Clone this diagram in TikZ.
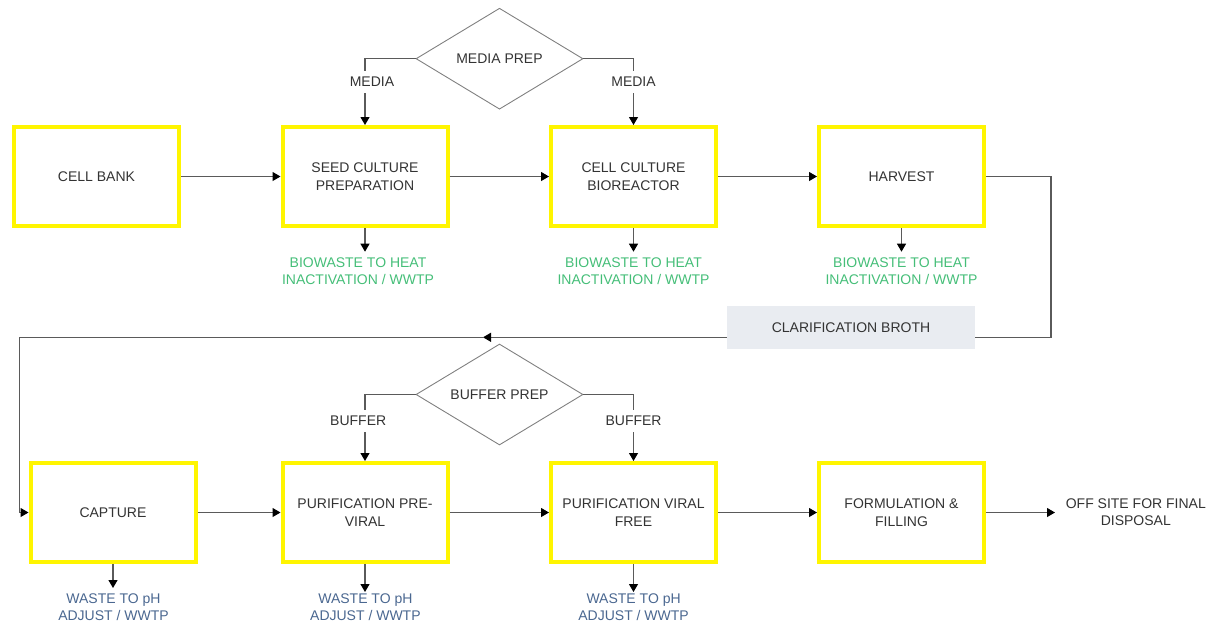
\documentclass[tikz,border=0pt]{standalone}
\usepackage{fontspec}
\setmainfont{Liberation Sans}
\usetikzlibrary{arrows.meta,shapes.geometric}
\definecolor{boxyellow}{HTML}{FFF500}
\definecolor{linegray}{HTML}{5A5A5A}
\definecolor{diagray}{HTML}{808080}
\definecolor{txt}{HTML}{333333}
\definecolor{biogreen}{HTML}{45BE78}
\definecolor{phblue}{HTML}{4A6790}
\definecolor{broth}{HTML}{E9ECF1}
\begin{document}
\begin{tikzpicture}[x=1pt,y=-1pt,
  every node/.style={font=\fontsize{14}{17.4}\selectfont, text=txt},
  stage/.style={draw=boxyellow, line width=4pt, minimum width=165pt,
    minimum height=99pt, align=center, inner sep=2pt},
  prep/.style={diamond, draw=diagray, line width=0.9pt, minimum width=167pt,
    minimum height=101pt, inner sep=0pt, aspect=1.65},
  flow/.style={draw=linegray, line width=1.1pt,
    -{Triangle[length=8pt,width=9pt,color=black]}},
  plain/.style={draw=linegray, line width=1.1pt},
  feed/.style={fill=white, inner xsep=2pt, inner ysep=6pt},
  bio/.style={text=biogreen, align=center, inner sep=0pt},
  phw/.style={text=phblue, align=center, inner sep=0pt}]
\useasboundingbox (0,0) rectangle (1221,625);

% upstream stages
\node[stage] (cellbank) at (96.5,176.5) {CELL BANK};
\node[stage] (seed) at (365,176.5) {SEED CULTURE\\PREPARATION};
\node[stage] (bioreactor) at (633.5,176.5) {CELL CULTURE\\BIOREACTOR};
\node[stage] (harvest) at (901.5,176.5) {HARVEST};

% downstream stages
\node[stage] (capture) at (113,512.5) {CAPTURE};
\node[stage] (previral) at (365,512.5) {PURIFICATION PRE-\\VIRAL};
\node[stage] (viralfree) at (633.5,512.5) {PURIFICATION VIRAL\\FREE};
\node[stage] (formulation) at (901.5,512.5) {FORMULATION \&\\FILLING};

% preparation steps
\node[prep] (mediaprep) at (499.5,58.7) {MEDIA PREP};
\node[prep] (bufferprep) at (499.5,394.5) {BUFFER PREP};

% waste streams
\node[bio] (bw1) at (358,271.4) {BIOWASTE TO HEAT\\INACTIVATION / WWTP};
\node[bio] (bw2) at (633.5,271.4) {BIOWASTE TO HEAT\\INACTIVATION / WWTP};
\node[bio] (bw3) at (901.5,271.4) {BIOWASTE TO HEAT\\INACTIVATION / WWTP};
\node[phw] (pw1) at (113.5,607.2) {WASTE TO pH\\ADJUST / WWTP};
\node[phw] (pw2) at (365.4,607.2) {WASTE TO pH\\ADJUST / WWTP};
\node[phw] (pw3) at (633.6,607.2) {WASTE TO pH\\ADJUST / WWTP};
\node[align=center, inner sep=0pt] (offsite) at (1135.8,512) {OFF SITE FOR FINAL\\DISPOSAL};

\coordinate (bw1in) at (365,251.7);
\coordinate (bw2in) at (633.5,251.7);
\coordinate (bw3in) at (901.5,251.7);
\coordinate (pw1in) at (113,588);
\coordinate (pw2in) at (365,592);
\coordinate (pw3in) at (633.5,592);
\coordinate (offin) at (1055,512.5);

% main process line
\draw[flow] (cellbank.east) -- (seed.west);
\draw[flow] (seed.east) -- (bioreactor.west);
\draw[flow] (bioreactor.east) -- (harvest.west);
\draw[flow] (capture.east) -- (previral.west);
\draw[flow] (previral.east) -- (viralfree.west);
\draw[flow] (viralfree.east) -- (formulation.west);
\draw[flow] (formulation.east) -- (offin);

% media and buffer feeds
\draw[flow] (mediaprep.west) -| (seed.north);
\draw[flow] (mediaprep.east) -| (bioreactor.north);
\draw[flow] (bufferprep.west) -| (previral.north);
\draw[flow] (bufferprep.east) -| (viralfree.north);
\node[feed] (m1) at (372,82) {MEDIA};
\node[feed] (m2) at (633.5,82) {MEDIA};
\node[feed] (b1) at (358.2,420.7) {BUFFER};
\node[feed] (b2) at (633.6,420.7) {BUFFER};

% waste outlets
\draw[flow] (seed.south) -- (bw1in);
\draw[flow] (bioreactor.south) -- (bw2in);
\draw[flow] (harvest.south) -- (bw3in);
\draw[flow] (capture.south) -- (pw1in);
\draw[flow] (previral.south) -- (pw2in);
\draw[flow] (viralfree.south) -- (pw3in);

% clarified broth return to capture
\coordinate (r1) at (1051,176.5);
\coordinate (r2) at (1051,337.3);
\coordinate (rmid) at (483,337.3);
\coordinate (r3) at (19.4,337.3);
\draw[flow] (harvest.east) -- (r1) -- (r2) -- (rmid);
\draw[flow] (rmid) -- (r3) |- (capture.west);
\node[fill=broth, minimum width=248pt, minimum height=43pt, inner sep=0pt]
  (broth) at (851,327.5) {CLARIFICATION BROTH};
\end{tikzpicture}
\end{document}
